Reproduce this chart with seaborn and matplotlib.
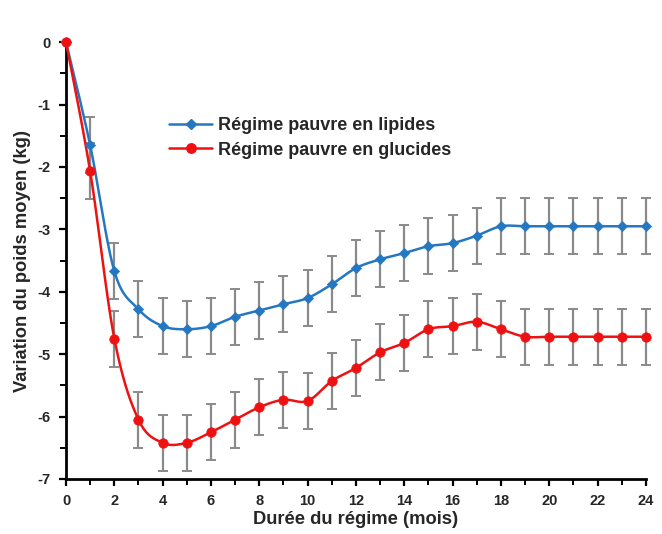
# plot.py
# Variation du poids moyen selon le régime (lipides vs glucides)

import numpy as np
import pandas as pd
import matplotlib
matplotlib.use("Agg")
import matplotlib.pyplot as plt
import seaborn as sns
from matplotlib.ticker import MultipleLocator

# data
mois = [0, 1, 2, 3, 4, 5, 6, 7, 8, 9, 10, 11, 12, 13, 14, 15, 16, 17, 18, 19, 20, 21, 22, 23, 24]
lipides = [0, -1.65, -3.67, -4.28, -4.55, -4.6, -4.55, -4.4, -4.3, -4.2, -4.1, -3.88, -3.62,
           -3.48, -3.38, -3.27, -3.22, -3.1, -2.95, -2.95, -2.95, -2.95, -2.95, -2.95, -2.95]
glucides = [0, -2.07, -4.75, -6.05, -6.42, -6.42, -6.25, -6.05, -5.85, -5.73, -5.75, -5.43, -5.22,
            -4.97, -4.82, -4.6, -4.55, -4.48, -4.6, -4.72, -4.72, -4.72, -4.72, -4.72, -4.72]
err_lipides = [0] + [0.45] * 24
err_glucides = [0] + [0.45] * 24
noms = ["Régime pauvre en lipides", "Régime pauvre en glucides"]

bleu = "#2577c2"
rouge = "#ee1111"

df = pd.DataFrame({"mois": mois, "lipides": lipides, "glucides": glucides})


# smooth line like the spreadsheet "smoothed line" option (Catmull-Rom)
def smooth(x, y, n=20):
    x = np.asarray(x, float)
    y = np.asarray(y, float)
    px = np.concatenate([[x[0]], x, [x[-1]]])
    py = np.concatenate([[y[0]], y, [y[-1]]])
    xs, ys = [], []
    t = np.linspace(0, 1, n)
    for i in range(1, len(px) - 2):
        p0, p1, p2, p3 = [np.array([px[j], py[j]]) for j in (i - 1, i, i + 1, i + 2)]
        c1 = p1 + (p2 - p0) / 6
        c2 = p2 - (p3 - p1) / 6
        pts = ((1 - t) ** 3)[:, None] * p1 + (3 * (1 - t) ** 2 * t)[:, None] * c1 \
            + (3 * (1 - t) * t ** 2)[:, None] * c2 + (t ** 3)[:, None] * p2
        xs.extend(pts[:, 0])
        ys.extend(pts[:, 1])
    return np.array(xs), np.array(ys)


sns.set_theme(style="white")
plt.rcParams["font.family"] = ["Liberation Sans", "DejaVu Sans"]
plt.rcParams["axes.unicode_minus"] = False

fig = plt.figure(figsize=(6.62, 5.34), dpi=100)
ax = fig.add_axes([0.0997, 0.103, 0.876, 0.818])

# error bars
ax.errorbar(mois, lipides, yerr=err_lipides, fmt="none", ecolor="#8a8a8a",
            elinewidth=1.6, capsize=3.5, capthick=1.4, zorder=2, clip_on=False)
ax.errorbar(mois, glucides, yerr=err_glucides, fmt="none", ecolor="#8a8a8a",
            elinewidth=1.6, capsize=3.5, capthick=1.4, zorder=2, clip_on=False)

# smoothed lines
sx, sy = smooth(mois, lipides)
ax.plot(sx, sy, color=bleu, lw=1.8, zorder=3, clip_on=False)
sx, sy = smooth(mois, glucides)
ax.plot(sx, sy, color=rouge, lw=1.8, zorder=3, clip_on=False)

# markers
sns.scatterplot(data=df, x="mois", y="lipides", marker="D", s=28, color=bleu,
                edgecolor=bleu, ax=ax, zorder=4, clip_on=False)
sns.scatterplot(data=df, x="mois", y="glucides", marker="o", s=46, color=rouge,
                edgecolor=rouge, ax=ax, zorder=5, clip_on=False)

# legend with line + marker handles
h1, = ax.plot([], [], color=bleu, lw=1.8, marker="D", ms=5.2)
h2, = ax.plot([], [], color=rouge, lw=1.8, marker="o", ms=6.8)
ax.legend([h1, h2], noms, loc="upper left", bbox_to_anchor=(0.165, 0.845),
          frameon=False, handlelength=2.4, handletextpad=0.3, labelspacing=0.42,
          borderaxespad=0, prop={"weight": "bold", "size": 13})

ax.set_xlim(0, 24)
ax.set_ylim(-7, 0)
ax.xaxis.set_major_locator(MultipleLocator(2))
ax.xaxis.set_minor_locator(MultipleLocator(1))
ax.yaxis.set_major_locator(MultipleLocator(1))
ax.yaxis.set_minor_locator(MultipleLocator(0.5))

for s in ["top", "right"]:
    ax.spines[s].set_visible(False)
for s in ["left", "bottom"]:
    ax.spines[s].set_color("black")
    ax.spines[s].set_linewidth(2)

ax.tick_params(which="major", direction="out", length=5, width=1.6, color="black",
               labelsize=10.5, pad=6, left=True, bottom=True)
ax.tick_params(which="minor", direction="out", length=4, width=1.4, color="black",
               left=True, bottom=True)
for lab in ax.get_xticklabels() + ax.get_yticklabels():
    lab.set_fontweight("bold")

ax.set_xlabel("Durée du régime (mois)", fontsize=13.2, fontweight="bold", labelpad=2)
ax.set_ylabel("Variation du poids moyen (kg)", fontsize=13.2, fontweight="bold", labelpad=5)

fig.savefig("out.png", dpi=100)
